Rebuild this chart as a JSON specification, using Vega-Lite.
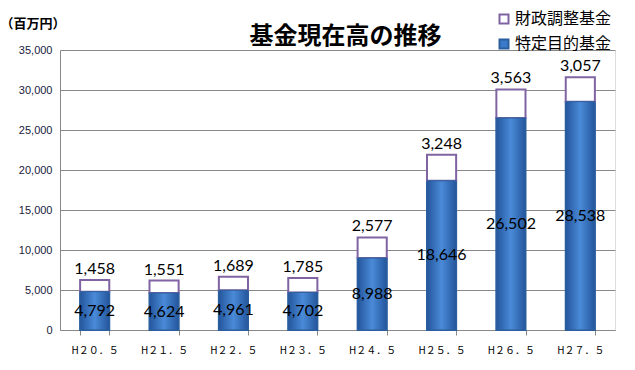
{
  "$schema": "https://vega.github.io/schema/vega-lite/v6.json",
  "width": 555,
  "height": 280,
  "autosize": {"type": "none"},
  "padding": {"left": 60, "top": 50, "right": 20, "bottom": 40},
  "background": "white",
  "title": {
    "text": "基金現在高の推移",
    "font": "Noto Sans CJK JP",
    "fontSize": 24,
    "fontWeight": "bold",
    "color": "black",
    "anchor": "middle",
    "frame": "group",
    "dx": 8,
    "dy": 38,
    "offset": 0
  },
  "data": {
    "values": [
      {"year": "H２０．５", "series": "特定目的基金", "value": 4792},
      {"year": "H２１．５", "series": "特定目的基金", "value": 4624},
      {"year": "H２２．５", "series": "特定目的基金", "value": 4961},
      {"year": "H２３．５", "series": "特定目的基金", "value": 4702},
      {"year": "H２４．５", "series": "特定目的基金", "value": 8988},
      {"year": "H２５．５", "series": "特定目的基金", "value": 18646},
      {"year": "H２６．５", "series": "特定目的基金", "value": 26502},
      {"year": "H２７．５", "series": "特定目的基金", "value": 28538},
      {"year": "H２０．５", "series": "財政調整基金", "value": 1458},
      {"year": "H２１．５", "series": "財政調整基金", "value": 1551},
      {"year": "H２２．５", "series": "財政調整基金", "value": 1689},
      {"year": "H２３．５", "series": "財政調整基金", "value": 1785},
      {"year": "H２４．５", "series": "財政調整基金", "value": 2577},
      {"year": "H２５．５", "series": "財政調整基金", "value": 3248},
      {"year": "H２６．５", "series": "財政調整基金", "value": 3563},
      {"year": "H２７．５", "series": "財政調整基金", "value": 3057}
    ]
  },
  "transform": [
    {"stack": "value", "groupby": ["year"], "sort": [{"field": "series", "order": "ascending"}], "as": ["v0", "v1"]},
    {"calculate": "(datum.v0 + datum.v1) / 2", "as": "vmid"}
  ],
  "resolve": {"axis": {"y": "independent"}},
  "encoding": {
    "x": {
      "field": "year",
      "type": "nominal",
      "sort": null,
      "scale": {"paddingInner": 0.58, "paddingOuter": 0.29},
      "axis": {
        "title": null,
        "labelAngle": 0,
        "labelFont": "Noto Sans CJK JP",
        "labelFontSize": 10,
        "labelColor": "black",
        "labelPadding": 10,
        "tickBand": "extent",
        "tickSize": 5,
        "tickColor": "#888888",
        "domainColor": "#888888"
      }
    }
  },
  "layer": [
    {
      "mark": {"type": "bar", "strokeWidth": 2},
      "encoding": {
        "y": {
          "field": "v1",
          "type": "quantitative",
          "scale": {"domain": [0, 35000]},
          "axis": {
            "title": "（百万円）",
            "values": [0, 5000, 10000, 15000, 20000, 25000, 30000, 35000],
            "titleAngle": 0,
            "titleX": -60,
            "titleY": -27,
            "titleAlign": "left",
            "titleBaseline": "middle",
            "titleFont": "Noto Sans CJK JP",
            "titleFontSize": 13,
            "titleFontWeight": "bold",
            "titleColor": "black",
            "labelOverlap": false,
            "format": ",d",
            "labelFont": "Liberation Sans",
            "labelFontSize": 11,
            "labelColor": "#1a1a40",
            "labelPadding": 8,
            "ticks": false,
            "grid": true,
            "gridColor": "#888888",
            "domainColor": "#888888"
          }
        },
        "y2": {"field": "v0"},
        "color": {
          "field": "series",
          "type": "nominal",
          "scale": {"domain": ["財政調整基金", "特定目的基金"], "range": ["#ffffff", "#3b79c9"]},
          "legend": {
            "title": null,
            "orient": "none",
            "legendX": 436,
            "legendY": -39,
            "symbolType": "square",
            "symbolSize": 81,
            "symbolStrokeWidth": 2,
            "labelFont": "Noto Sans CJK JP",
            "labelFontSize": 16,
            "labelColor": "black",
            "labelOffset": 3,
            "rowPadding": 7
          }
        },
        "stroke": {
          "field": "series",
          "type": "nominal",
          "scale": {"domain": ["財政調整基金", "特定目的基金"], "range": ["#8064a2", "#2c5f9e"]},
          "legend": null
        }
      }
    },
    {
      "transform": [{"filter": "datum.series === '特定目的基金'"}],
      "mark": {
        "type": "bar",
        "fill": {
          "gradient": "linear",
          "x1": 0, "x2": 1, "y1": 0, "y2": 0,
          "stops": [
            {"offset": 0, "color": "#24569c"},
            {"offset": 0.5, "color": "#4a8ad8"},
            {"offset": 1, "color": "#24569c"}
          ]
        },
        "stroke": "#2c5f9e",
        "strokeWidth": 1
      },
      "encoding": {
        "y": {"field": "v1", "type": "quantitative", "axis": null},
        "y2": {"field": "v0"}
      }
    },
    {
      "transform": [{"filter": "datum.series === '特定目的基金'"}],
      "mark": {"type": "text", "font": "Lato", "fontSize": 16, "color": "black", "baseline": "middle"},
      "encoding": {
        "y": {"field": "vmid", "type": "quantitative", "axis": null},
        "text": {"field": "value", "type": "quantitative", "format": ","}
      }
    },
    {
      "transform": [{"filter": "datum.series === '財政調整基金'"}],
      "mark": {"type": "text", "font": "Lato", "fontSize": 16, "color": "black", "baseline": "bottom", "dy": -3},
      "encoding": {
        "y": {"field": "v1", "type": "quantitative", "axis": null},
        "text": {"field": "value", "type": "quantitative", "format": ","}
      }
    }
  ]
}
